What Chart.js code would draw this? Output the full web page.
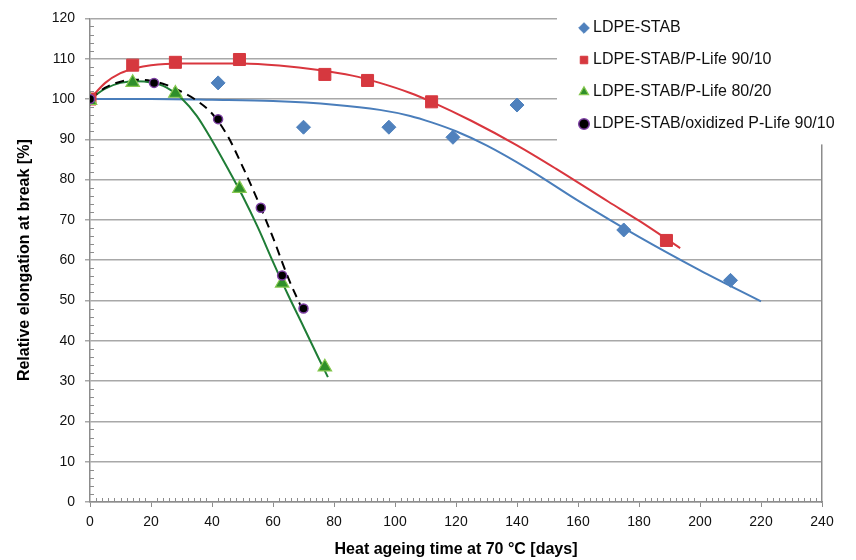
<!DOCTYPE html>
<html><head><meta charset="utf-8">
<script src="https://cdn.jsdelivr.net/npm/chart.js@4"></script>
<style>html,body{margin:0;padding:0;background:#fff}</style>
</head><body>
<canvas id="c" width="856" height="560" style="display:block;width:856px;height:560px"></canvas>
<script>
// ---- data ----
const seriesNames = ['LDPE-STAB', 'LDPE-STAB/P-Life 90/10', 'LDPE-STAB/P-Life 80/20', 'LDPE-STAB/oxidized P-Life 90/10'];
const xTitle = 'Heat ageing time at 70 °C [days]';
const yTitle = 'Relative elongation at break [%]';
const xTickValues = [0, 20, 40, 60, 80, 100, 120, 140, 160, 180, 200, 220, 240];
const yTickValues = [0, 10, 20, 30, 40, 50, 60, 70, 80, 90, 100, 110, 120];

const stabX = [0, 42, 70, 98, 119, 140, 175, 210];
const stabY = [100, 104, 93, 93, 90.5, 98.5, 67.5, 55];
const pl9010X = [0, 14, 28, 49, 77, 91, 112, 189];
const pl9010Y = [100, 108.4, 109.1, 109.8, 106.1, 104.6, 99.3, 64.9];
const pl8020X = [0, 14, 28, 49, 63, 77];
const pl8020Y = [99.6, 104.1, 101.4, 77.8, 54.3, 33.5];
const oxX = [0, 21, 42, 56, 63, 70];
const oxY = [100, 104, 95, 73, 56.2, 48];

// fitted trend curves
const stabTrendX = [0, 20, 40, 60, 80, 95, 105, 112, 120, 130, 144, 160, 180, 200, 220];
const stabTrendY = [100, 100, 99.8, 99.5, 98.6, 97.3, 95.8, 94.2, 92, 88.5, 82.5, 74.8, 65.8, 57.5, 49.8];
const pl9010TrendX = [0, 5, 10, 15, 20, 30, 50, 62, 75, 86, 95, 105, 112, 125, 140, 153, 170, 180, 193.5];
const pl9010TrendY = [100, 104, 106.4, 107.7, 108.4, 108.8, 108.8, 108.3, 107.2, 105.8, 104, 101.5, 99.3, 94.6, 88.5, 82.6, 74.5, 69.8, 63];
const pl8020TrendX = [0, 5, 10, 15, 20, 25, 30, 35, 40, 45, 50, 55, 60, 65, 70, 75, 78];
const pl8020TrendY = [100, 102.6, 104, 104.4, 104.1, 102.9, 100.2, 95.8, 89.7, 83, 76, 68.2, 59.6, 51.3, 43.5, 35.6, 31];
const oxTrendX = [0, 5, 10, 15, 20, 25, 30, 35, 40, 45, 50, 55, 60, 65, 70.5];
const oxTrendY = [100, 102.8, 104.3, 104.8, 104.5, 103.5, 101.8, 99.6, 96.4, 91, 83.3, 74.8, 65.6, 55.6, 46.3];

// ---- chart ----
const pts = (xs, ys) => xs.map((x, i) => ({x: x, y: ys[i]}));
Chart.defaults.font.family = "'Liberation Sans', Arial, sans-serif";
Chart.defaults.color = '#111';

const GRID = '#a8a8a8';
const AXIS = '#8c8c8c';

const minorTicks = {
  id: 'minorTicks',
  afterDraw(chart) {
    const {ctx, chartArea, scales} = chart;
    const xs = scales.x, ys = scales.y;
    ctx.save();
    ctx.strokeStyle = AXIS;
    ctx.lineWidth = 1;
    ctx.beginPath();
    for (let v = ys.min; v <= ys.max; v += 2) {
      if (v % 10 === 0) continue;
      const p = Math.round(ys.getPixelForValue(v)) + 0.5;
      ctx.moveTo(chartArea.left, p); ctx.lineTo(chartArea.left + 4, p);
    }
    for (let v = xs.min; v <= xs.max; v += 2) {
      if (v % 20 === 0) continue;
      const p = Math.round(xs.getPixelForValue(v)) + 0.5;
      ctx.moveTo(p, chartArea.bottom); ctx.lineTo(p, chartArea.bottom - 4);
    }
    ctx.stroke();
    ctx.restore();
  }
};

const legendPlace = {
  id: 'legendPlace',
  afterLayout(chart) {
    const lg = chart.legend;
    if (!lg) return;
    lg.left = chart.chartArea.right - 255;
    lg.right = chart.width;
    lg.top = 4;
    lg.bottom = 200;
  },
  afterDatasetsDraw(chart) {
    const {ctx, chartArea} = chart;
    const lg = chart.legend;
    ctx.save();
    ctx.fillStyle = '#fff';
    const x0 = chartArea.right - 265;
    ctx.fillRect(x0, 0, chart.width - x0, chartArea.top + 126);
    ctx.restore();
    lg.draw(chartArea);
  }
};

new Chart(document.getElementById('c'), {
  type: 'scatter',
  data: {
    datasets: [
      {label: seriesNames[0], data: pts(stabX, stabY), pointStyle: 'rectRot', pointRadius: 7,
       backgroundColor: '#4f81bd', borderColor: '#4f81bd', borderWidth: 1, order: 3},
      {label: seriesNames[1], data: pts(pl9010X, pl9010Y), pointStyle: 'rect', pointRadius: 8.5,
       backgroundColor: '#d6383f', borderColor: '#d6383f', borderWidth: 1, order: 2},
      {label: seriesNames[2], data: pts(pl8020X, pl8020Y), pointStyle: 'triangle', pointRadius: 7.8,
       backgroundColor: '#2f8f2a', borderColor: '#86c84f', borderWidth: 1.2, order: 1},
      {label: seriesNames[3], data: pts(oxX, oxY), pointStyle: 'circle', pointRadius: 4.5,
       backgroundColor: '#000', borderColor: '#7d3fa3', borderWidth: 1.5, order: 0},
      {label: 'trend1', data: pts(stabTrendX, stabTrendY), showLine: true, pointRadius: 0,
       borderColor: '#4a7ebb', borderWidth: 2, cubicInterpolationMode: 'monotone', order: 7},
      {label: 'trend2', data: pts(pl9010TrendX, pl9010TrendY), showLine: true, pointRadius: 0,
       borderColor: '#d9363e', borderWidth: 2, cubicInterpolationMode: 'monotone', order: 6},
      {label: 'trend3', data: pts(pl8020TrendX, pl8020TrendY), showLine: true, pointRadius: 0,
       borderColor: '#1f7d36', borderWidth: 2, cubicInterpolationMode: 'monotone', order: 5},
      {label: 'trend4', data: pts(oxTrendX, oxTrendY), showLine: true, pointRadius: 0,
       borderColor: '#000', borderWidth: 2, borderDash: [9, 6], cubicInterpolationMode: 'monotone', order: 4}
    ]
  },
  options: {
    responsive: false,
    animation: false,
    events: [],
    layout: {padding: {left: 0, right: 34, top: 15, bottom: 0}},
    plugins: {
      tooltip: {enabled: false},
      legend: {
        position: 'chartArea',
        align: 'start',
        labels: {
          usePointStyle: true,
          boxWidth: 2,
          boxHeight: 7.5,
          padding: 16,
          color: '#111',
          font: {size: 16},
          filter: (item) => item.datasetIndex < 4,
          sort: (a, b) => a.datasetIndex - b.datasetIndex
        }
      }
    },
    scales: {
      x: {
        type: 'linear', min: 0, max: 240,
        afterBuildTicks: (s) => { s.ticks = xTickValues.map(v => ({value: v})); },
        afterFit: (s) => { s.height = 58; },
        grid: {drawOnChartArea: false, drawTicks: true, tickLength: 5, color: AXIS, lineWidth: 1},
        border: {display: true, color: AXIS, width: 1.5},
        ticks: {padding: 7, font: {size: 14}, color: '#111', maxRotation: 0},
        title: {display: true, text: xTitle, font: {size: 16, weight: 'bold'}, color: '#000', padding: {top: 4, bottom: 1}}
      },
      y: {
        type: 'linear', min: 0, max: 120,
        afterBuildTicks: (s) => { s.ticks = yTickValues.map(v => ({value: v})); },
        afterFit: (s) => { s.width = 90; },
        grid: {drawOnChartArea: true, drawTicks: true, tickLength: 5, color: GRID, lineWidth: 1.5},
        border: {display: true, color: AXIS, width: 1.5},
        ticks: {padding: 10, font: {size: 14}, color: '#111'},
        title: {display: true, text: yTitle, font: {size: 16, weight: 'bold'}, color: '#000', padding: {top: 15, bottom: 4}}
      },
      yR: {
        type: 'linear', position: 'right', min: 0, max: 120,
        afterFit: (s) => { s.width = 0; },
        grid: {drawOnChartArea: false, drawTicks: false},
        border: {display: true, color: AXIS, width: 1.5},
        ticks: {display: false}
      }
    }
  },
  plugins: [minorTicks, legendPlace]
});
</script>
</body></html>
